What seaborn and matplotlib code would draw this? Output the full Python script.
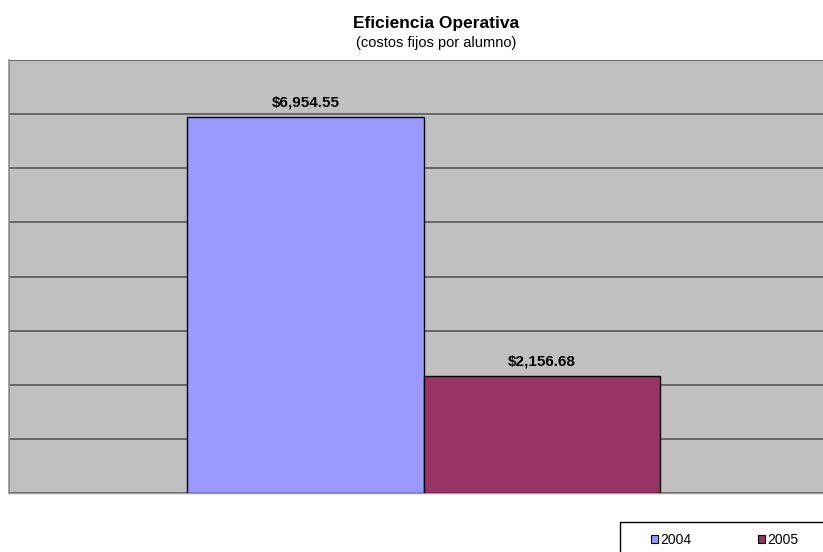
import matplotlib
matplotlib.use("Agg")
import matplotlib.pyplot as plt
import seaborn as sns
import pandas as pd
from matplotlib.patches import Patch, Rectangle

years = ["2004", "2005"]
values = [6954.55, 2156.68]
labels = ["$6,954.55", "$2,156.68"]
colors = ["#9999FF", "#993366"]
title = "Eficiencia Operativa"
subtitle = "(costos fijos por alumno)"

sns.set_theme(style="white")
plt.rcParams['font.family'] = ['Liberation Sans', 'DejaVu Sans']
plt.rcParams['text.color'] = 'black'

W, H = 823, 552
fig = plt.figure(figsize=(W / 100, H / 100), dpi=100)
ax = fig.add_axes([9 / W, (H - 493) / H, (835 - 9) / W, 433 / H])
ax.set_facecolor("#C0C0C0")

df = pd.DataFrame({"year": years, "value": values})
sns.barplot(data=df, x="year", y="value", hue="year", palette=colors,
            saturation=1, width=1.0, edgecolor="black", linewidth=1.0,
            legend=False, dodge=False, ax=ax, zorder=3)

ax.set_ylim(0, 8000)
ax.set_yticks(range(0, 8001, 1000))
ax.yaxis.grid(True, color="#5e5e5e", linewidth=1.3, zorder=0)
ax.set_axisbelow(True)
ax.set_xlim((9 - 305.5) / 236.5, (835 - 305.5) / 236.5)
ax.set_xticks([])
ax.set_yticklabels([])
ax.tick_params(left=False, bottom=False)
ax.set_xlabel("")
ax.set_ylabel("")
for s in ["top", "right"]:
    ax.spines[s].set_visible(False)
ax.spines["left"].set_color("#8c8c8c")
ax.spines["left"].set_linewidth(1.2)
ax.spines["bottom"].set_color("#9a9a9a")
ax.spines["bottom"].set_linewidth(1.0)

for i, (v, lab) in enumerate(zip(values, labels)):
    ax.annotate(lab, (i, v), xytext=(0, 7.5), textcoords="offset points",
                ha="center", va="baseline", fontsize=11, fontweight="bold",
                color="black")

fig.text(436 / W, 1 - 28 / H, title, ha="center", va="baseline",
         fontsize=12.5, fontweight="bold", color="black")
fig.text(436 / W, 1 - 47 / H, subtitle, ha="center", va="baseline",
         fontsize=10.5, color="black")

# legend frame (extends beyond right/bottom edge like the reference)
fig.patches.append(Rectangle((620 / W, -0.05), (840 - 620) / W, (H - 522) / H + 0.05,
                             transform=fig.transFigure, facecolor="white",
                             edgecolor="black", linewidth=1.0, zorder=1))
handles = [Patch(facecolor=c, edgecolor="black", linewidth=0.8) for c in colors]
leg = fig.legend(handles, years, loc="center left",
                 bbox_to_anchor=(651 / W, 1 - 540 / H), ncol=2,
                 fontsize=10, frameon=False,
                 handlelength=0.5, handleheight=0.5, handletextpad=0.15,
                 columnspacing=4.8, borderpad=0, borderaxespad=0)
leg.set_zorder(5)

fig.savefig("out.png", dpi=100)
